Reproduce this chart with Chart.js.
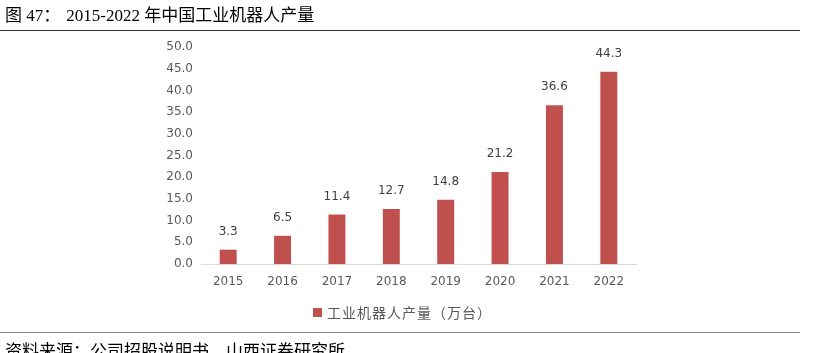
<!DOCTYPE html>
<html>
<head>
<meta charset="utf-8">
<script src="https://cdn.jsdelivr.net/npm/chart.js@4.4.1/dist/chart.umd.min.js"></script>
<style>
  html, body { margin:0; padding:0; background:#fff; }
  #wrap { position:relative; width:833px; height:353px; overflow:hidden; }
  #c { position:absolute; left:0; top:0; }
  #title { position:absolute; left:5px; top:1px; font:17px "Liberation Serif","Noto Sans CJK SC",serif; color:#000; white-space:nowrap; }
  #title .cn { font-family:"Noto Sans CJK SC",sans-serif; }
  #title .colon { margin-right:6px; }
  #topline { position:absolute; left:0; top:30px; width:800px; height:0; border-top:1.5px solid #333; }
  #botline { position:absolute; left:0; top:332px; width:800px; height:0; border-top:1px solid #888; }
  #footer { position:absolute; left:5px; top:337px; font:17px "Noto Sans CJK SC",sans-serif; color:#000; white-space:nowrap; }
  #legend { position:absolute; left:313px; top:302px; font:14px "Noto Sans CJK SC",sans-serif; letter-spacing:1px; color:#595959; white-space:nowrap; display:flex; align-items:center; }
  #legend .box { width:9px; height:9px; margin-right:5px; display:inline-block; }
</style>
</head>
<body>
<div id="wrap">
  <canvas id="c" width="833" height="353"></canvas>
  <div id="title"><span class="cn">图</span> 47<span class="cn colon">：</span>2015-2022 <span class="cn">年中国工业机器人产量</span></div>
  <div id="topline"></div>
  <div id="legend"></div>
  <div id="botline"></div>
  <div id="footer">资料来源：公司招股说明书，山西证券研究所</div>
</div>
<script>
const categories = ["2015","2016","2017","2018","2019","2020","2021","2022"];
const production = [3.3, 6.5, 11.4, 12.7, 14.8, 21.2, 36.6, 44.3];
const seriesLabel = "工业机器人产量（万台）";
const barColor = "#C0504D";

const valueLabels = {
  id: "valueLabels",
  afterDatasetsDraw(chart) {
    const ctx = chart.ctx;
    ctx.save();
    ctx.font = '12px "DejaVu Sans", sans-serif';
    ctx.fillStyle = "#404040";
    ctx.textAlign = "center";
    ctx.textBaseline = "middle";
    chart.data.datasets.forEach((ds, di) => {
      chart.getDatasetMeta(di).data.forEach((el, i) => {
        ctx.fillText(ds.data[i].toFixed(1), el.x, el.y - 18);
      });
    });
    ctx.restore();
  }
};

const chart = new Chart(document.getElementById("c"), {
  type: "bar",
  data: {
    labels: categories,
    datasets: [{
      label: seriesLabel,
      data: production,
      backgroundColor: barColor,
      borderWidth: 0,
      barPercentage: 0.39,
      categoryPercentage: 0.8
    }]
  },
  options: {
    responsive: false,
    devicePixelRatio: 1,
    animation: false,
    layout: { padding: { left: 0, right: 197, top: 47, bottom: 0 } },
    plugins: { legend: { display: false }, tooltip: { enabled: false } },
    scales: {
      x: {
        grid: { display: false, drawTicks: false },
        border: { display: true, color: "#d9d9d9", width: 1 },
        ticks: { color: "#595959", font: { family: "DejaVu Sans", size: 12 }, padding: 11, maxRotation: 0 },
        afterFit(s) { s.height = 89; }
      },
      y: {
        min: 0, max: 50,
        grid: { display: false, drawTicks: false },
        border: { display: false },
        ticks: { stepSize: 5, color: "#595959", font: { family: "DejaVu Sans", size: 12 }, padding: 8,
                 callback: v => Number(v).toFixed(1) },
        afterFit(s) { s.width = 201; }
      }
    }
  },
  plugins: [valueLabels]
});

const lg = document.getElementById("legend");
chart.data.datasets.forEach(ds => {
  const b = document.createElement("span"); b.className = "box"; b.style.background = ds.backgroundColor;
  const t = document.createElement("span"); t.textContent = ds.label;
  lg.appendChild(b); lg.appendChild(t);
});
</script>
</body>
</html>
